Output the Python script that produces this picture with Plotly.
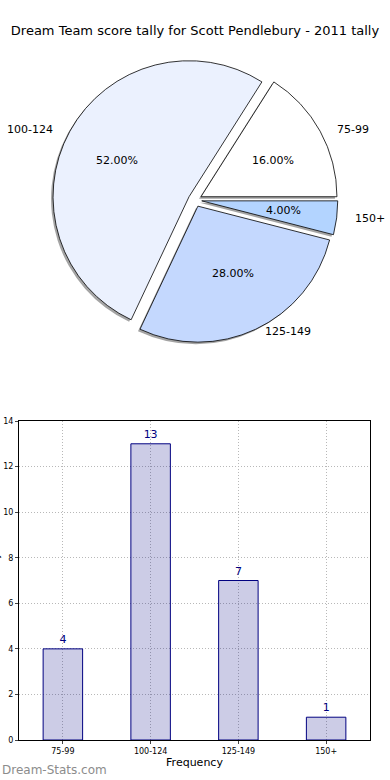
import math
import plotly.graph_objects as go

categories = ["75-99", "100-124", "125-149", "150+"]
counts = [4, 13, 7, 1]
pie_colors = ["#FFFFFF", "#EBF1FE", "#C4D8FE", "#B3D4FF"]
y_ticks = [0, 2, 4, 6, 8, 10, 12, 14]

W, H = 390, 780
total = sum(counts)
# plotly counterclockwise: first slice spans [rotation, rotation + its angle] (clockwise from 12 o'clock)
rotation = 90 - 360 * counts[0] / total
pulls = [0.05] * len(counts)

# pie placement (pixels)
CX, CY, R = 195, 200, 136
def dom(cx, cy, r, pull):
    h = 2 * r * (1 + pull)
    return dict(x=[(cx - h / 2) / W, (cx + h / 2) / W],
                y=[1 - (cy + h / 2) / H, 1 - (cy - h / 2) / H])

fig = go.Figure()

# shadow underlay
fig.add_trace(go.Pie(
    labels=categories, values=counts, sort=False, direction="counterclockwise",
    rotation=rotation, pull=pulls, domain=dom(CX - 2, CY + 2, R, 0.05),
    marker=dict(colors=["rgba(90,90,90,0.55)"] * 4, line=dict(width=0)),
    textinfo="none", showlegend=False, hoverinfo="skip",
))
fig.add_trace(go.Pie(
    labels=categories, values=counts, sort=False, direction="counterclockwise",
    rotation=rotation, pull=pulls, domain=dom(CX, CY, R, 0.05),
    marker=dict(colors=pie_colors, line=dict(color="black", width=0.8)),
    textinfo="none", showlegend=False, hoverinfo="label+value+percent",
))

annotations = []
# percentage and label text, matplotlib style (pctdistance 0.6, labeldistance 1.1)
RX, RY, EX = 141, 129, 0.03
cum = 0
for cat, v in zip(categories, counts):
    mid = math.radians(360 * (cum + v / 2) / total)
    cum += v
    c, s = math.cos(mid), math.sin(mid)
    px = CX + (0.6 + EX) * RX * c
    py = CY - (0.6 + EX) * RY * s
    annotations.append(dict(text=f"{100 * v / total:.2f}%", x=px / W, y=1 - py / H,
                            xref="paper", yref="paper", xanchor="center", yanchor="middle",
                            showarrow=False, font=dict(size=11, color="black")))
    lx = CX + (1.1 + EX) * RX * c
    ly = CY - (1.1 + EX) * RY * s
    annotations.append(dict(text=cat, x=lx / W, y=1 - ly / H,
                            xref="paper", yref="paper",
                            xanchor="left" if c > 0 else "right", yanchor="middle",
                            showarrow=False, font=dict(size=11, color="black")))

fig.add_trace(go.Bar(
    x=categories, y=counts, width=0.45,
    marker=dict(color="rgba(0,0,128,0.2)", line=dict(color="#000080", width=1)),
    text=[str(c) for c in counts], textposition="outside",
    textfont=dict(family="DejaVu Sans", size=11, color="#000080"),
    cliponaxis=False, showlegend=False,
    xaxis="x", yaxis="y",
))

annotations += [
    dict(text="Score Tally", textangle=-90, x=-5 / W, y=1 - 580 / H, xref="paper", yref="paper",
         xanchor="center", yanchor="middle", showarrow=False,
         font=dict(size=10, color="black")),
    dict(text="Dream-Stats.com", x=0.0, y=1 - 770 / H, xref="paper", yref="paper",
         xanchor="left", yanchor="middle", showarrow=False,
         font=dict(size=12, color="#8c8c8c")),
]

grid = dict(showgrid=True, gridcolor="#b8b8b8", griddash="1px,2px", gridwidth=1)
fig.update_layout(
    width=W, height=H,
    margin=dict(l=0, r=0, t=0, b=0, pad=0),
    paper_bgcolor="white", plot_bgcolor="white",
    font=dict(family="DejaVu Sans", color="black"),
    title=dict(text="Dream Team score tally for Scott Pendlebury - 2011 tally",
               x=0.5, xanchor="center", xref="paper", y=1 - 30 / H, yanchor="middle",
               font=dict(size=13, color="black")),
    xaxis=dict(domain=[19 / W, 370 / W], range=[-0.5, 3.5], automargin=False,
               showline=True, linecolor="black", mirror=True, linewidth=1,
               ticks="outside", ticklen=3, tickfont=dict(size=8),
               title=dict(text="Frequency", font=dict(size=11), standoff=2),
               anchor="y", zeroline=False, **grid),
    yaxis=dict(domain=[40 / H, 359 / H], range=[0, 14], tickvals=y_ticks, automargin=False,
               showline=True, linecolor="black", mirror=True, linewidth=1,
               ticks="outside", ticklen=3, tickfont=dict(size=8),
               anchor="x", zeroline=False, **grid),
    annotations=annotations,
)

fig.write_html("out.html", config={"displayModeBar": False},
               post_script="document.body.style.margin='0';document.body.style.overflow='hidden';")
